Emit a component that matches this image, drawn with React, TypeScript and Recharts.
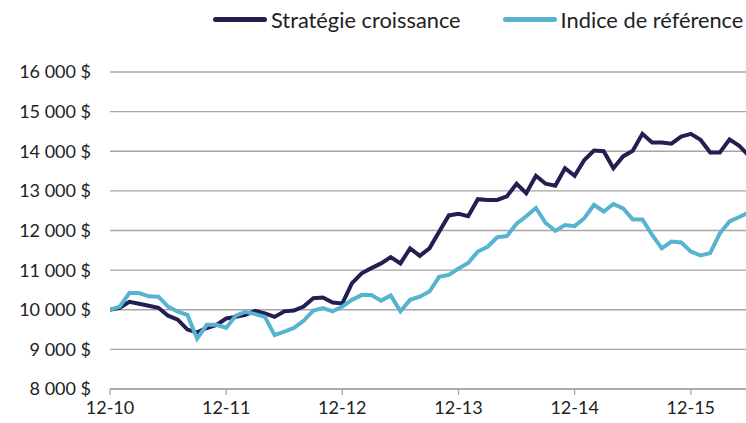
import React from 'react';
import { LineChart, Line, XAxis, YAxis, CartesianGrid } from 'recharts';

// monthly values, 12-10 through 06-16
const strategie = [
  10000, 10050, 10200, 10150, 10100, 10050, 9850, 9750, 9500, 9430, 9540, 9620,
  9780, 9820, 9870, 9970, 9910, 9820, 9960, 9980, 10080, 10290, 10310, 10180,
  10160, 10670, 10920, 11050, 11170, 11330, 11170, 11550, 11360, 11550, 11970, 12380,
  12420, 12360, 12790, 12770, 12770, 12860, 13180, 12940, 13380, 13180, 13130, 13570,
  13380, 13780, 14020, 14000, 13570, 13870, 14010, 14440, 14220, 14220, 14190, 14370,
  14440, 14290, 13970, 13970, 14300, 14140, 13880,
];

const indice = [
  10000, 10080, 10420, 10420, 10340, 10330, 10080, 9950, 9870, 9270, 9620, 9620,
  9540, 9850, 9950, 9890, 9820, 9360, 9450, 9540, 9720, 9980, 10040, 9960,
  10080, 10250, 10370, 10370, 10230, 10360, 9960, 10250, 10330, 10460, 10830, 10880,
  11040, 11180, 11470, 11590, 11830, 11860, 12170, 12360, 12570, 12190, 11990, 12140,
  12110, 12310, 12650, 12480, 12670, 12560, 12280, 12280, 11890, 11550, 11720, 11700,
  11470, 11370, 11430, 11930, 12230, 12340, 12460,
];

const tickLabels = ['12-10', '12-11', '12-12', '12-13', '12-14', '12-15'];
const xTicks = [0, 12, 24, 36, 48, 60];
const yTicks = [8000, 9000, 10000, 11000, 12000, 13000, 14000, 15000, 16000];

const DARK = '#222052';
const LIGHT = '#57b3d0';
const FONT = 'Lato, sans-serif';

const data = strategie.map((v, i) => ({ m: i, strategie: v, indice: indice[i] }));

const legendItems = [
  { label: 'Stratégie croissance', color: DARK },
  { label: 'Indice de référence', color: LIGHT },
];

export default function App() {
  return (
    <div style={{ position: 'absolute', left: 0, top: 0, width: 746, height: 423 }}>
      <div
        style={{
          position: 'absolute', top: 6, left: 213, display: 'flex', alignItems: 'center',
          fontFamily: FONT, fontSize: 21.8, color: '#222', whiteSpace: 'nowrap',
        }}
      >
        {legendItems.map((it, i) => (
          <div key={it.label} style={{ display: 'flex', alignItems: 'center', marginLeft: i ? 42 : 0 }}>
            <div style={{ width: 54, height: 5, borderRadius: 3, background: it.color, marginRight: 4 }} />
            <span>{it.label}</span>
          </div>
        ))}
      </div>
      <LineChart width={746} height={423} data={data} margin={{ top: 72, right: 0, bottom: 0, left: 0 }}>
        <CartesianGrid vertical={false} stroke="#a6a6a6" strokeWidth={1.3} />
        <XAxis
          dataKey="m"
          type="number"
          domain={[0, 65.7]}
          allowDataOverflow
          ticks={xTicks}
          tickFormatter={(v: number) => tickLabels[xTicks.indexOf(v)]}
          stroke="#a6a6a6"
          strokeWidth={1.3}
          tickSize={6}
          tickMargin={6}
          height={34}
          tick={{ fill: '#222', fontSize: 18, fontFamily: FONT }}
        />
        <YAxis
          domain={[8000, 16000]}
          ticks={yTicks}
          width={110}
          axisLine={false}
          tickLine={false}
          tickSize={0}
          tickMargin={19}
          tickFormatter={(v: number) => `${v / 1000} 000 $`}
          tick={{ fill: '#222', fontSize: 18, fontFamily: FONT }}
        />
        <Line dataKey="strategie" stroke={DARK} strokeWidth={4} dot={false} isAnimationActive={false} />
        <Line dataKey="indice" stroke={LIGHT} strokeWidth={4} dot={false} isAnimationActive={false} />
      </LineChart>
    </div>
  );
}
